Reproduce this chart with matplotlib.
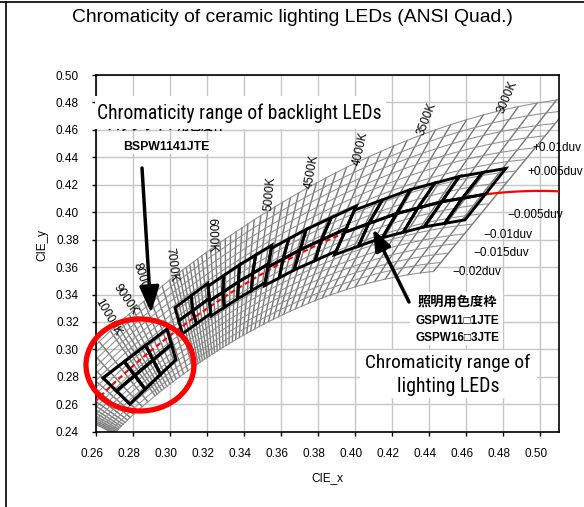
import matplotlib
matplotlib.use("Agg")
import matplotlib.pyplot as plt
import numpy as np
from matplotlib import font_manager
from matplotlib.font_manager import FontProperties
from matplotlib.lines import Line2D
from matplotlib.patches import Ellipse, Polygon, Rectangle, FancyArrowPatch
from matplotlib.transforms import ScaledTranslation

# figure size in pixels (dpi 100)
W, H = 584, 507

# axis ticks
X_TICKS = [0.26, 0.28, 0.30, 0.32, 0.34, 0.36, 0.38, 0.40, 0.42, 0.44, 0.46, 0.48, 0.50]
Y_TICKS = [0.24, 0.26, 0.28, 0.30, 0.32, 0.34, 0.36, 0.38, 0.40, 0.42, 0.44, 0.46, 0.48, 0.50]

# gray reference mesh: isotherms (K) and Duv steps
MESH_CCT = list(range(2500, 7000, 100)) + list(range(7000, 10000, 250)) + list(range(10000, 25001, 1000))
MESH_DUV = [-0.02, -0.0175, -0.015, -0.0125, -0.01, -0.0075, -0.005, -0.0025,
            0.0025, 0.005, 0.0075, 0.01, 0.0125, 0.015, 0.0175, 0.02]

# ANSI C78.377 quadrangles: centre and corners
# corner order: warm/+duv, cool/+duv, cool/-duv, warm/-duv
ANSI_CCT = [2700, 3000, 3500, 4000, 4500, 5000, 5700, 6500]
ANSI_CX = [0.4578, 0.4338, 0.4073, 0.3818, 0.3611, 0.3447, 0.3287, 0.3123]
ANSI_CY = [0.4101, 0.4030, 0.3917, 0.3797, 0.3658, 0.3553, 0.3417, 0.3282]
ANSI_X = [[0.4813, 0.4562, 0.4373, 0.4593],
          [0.4562, 0.4299, 0.4147, 0.4373],
          [0.4299, 0.3996, 0.3889, 0.4147],
          [0.4006, 0.3736, 0.3670, 0.3898],
          [0.3736, 0.3548, 0.3512, 0.3670],
          [0.3551, 0.3376, 0.3366, 0.3515],
          [0.3376, 0.3207, 0.3222, 0.3366],
          [0.3205, 0.3028, 0.3068, 0.3221]]
ANSI_Y = [[0.4319, 0.4260, 0.3893, 0.3944],
          [0.4260, 0.4165, 0.3814, 0.3893],
          [0.4165, 0.4015, 0.3690, 0.3814],
          [0.4044, 0.3874, 0.3578, 0.3716],
          [0.3874, 0.3736, 0.3465, 0.3578],
          [0.3760, 0.3616, 0.3369, 0.3487],
          [0.3616, 0.3462, 0.3243, 0.3369],
          [0.3481, 0.3304, 0.3113, 0.3261]]

# backlight range (cool/+duv, warm/+duv, warm/-duv, cool/-duv), 3 x 2 cells
BL_X = [0.2640, 0.2985, 0.3033, 0.2785]
BL_Y = [0.2792, 0.3148, 0.2925, 0.2602]
BL_COLS, BL_ROWS = 3, 2

# labels
K_LABELS = ["3000K", "3500K", "4000K", "4500K", "5000K", "6000K", "7000K", "8000K", "9000K", "10000K"]
K_POS = [(507, 97, 67), (427, 119, 69), (361, 149, 77), (312, 172, 80), (270, 194, 85),
         (212, 235, -89), (171, 265, -83), (142, 279, -72), (126, 300, -56), (108, 317, -60)]
DUV_LABELS = ["+0.01duv", "+0.005duv", "\u22120.005duv", "\u22120.01duv", "\u22120.015duv", "\u22120.02duv"]
DUV_POS = [(532, 148), (527, 172), (507, 215), (483, 235), (473, 253), (452, 272)]

SANS = "Liberation Sans"
JP = [SANS, "Noto Sans CJK JP"]


def narrow_font():
    wanted = ["Liberation Sans Narrow", "Arial Narrow", "Roboto Condensed", "Open Sans Condensed",
              "Noto Sans Condensed", "DejaVu Sans Condensed"]
    fonts = font_manager.fontManager.ttflist
    for name in wanted:
        for f in fonts:
            if f.name == name and f.style == "normal" and f.weight in (400, "normal", "regular"):
                return FontProperties(fname=f.fname)
    for f in fonts:
        if f.stretch in ("condensed", "semi-condensed") and f.style == "normal" \
                and f.weight in (400, "normal", "regular"):
            return FontProperties(fname=f.fname)
    return FontProperties(family=SANS)


NARROW = narrow_font()


def planck_uv(T):
    T = np.asarray(T, dtype=float)
    u = (0.860117757 + 1.54118254e-4 * T + 1.28641212e-7 * T ** 2) / (1 + 8.42420235e-4 * T + 7.08145163e-7 * T ** 2)
    v = (0.317398726 + 4.22806245e-5 * T + 4.20481691e-8 * T ** 2) / (1 - 2.89741816e-5 * T + 1.61456053e-7 * T ** 2)
    return u, v


def cct_duv_xy(T, duv):
    T = np.asarray(T, dtype=float)
    u, v = planck_uv(T)
    u2, v2 = planck_uv(T * 1.001)
    du, dv = u2 - u, v2 - v
    n = np.hypot(du, dv)
    uu = u + duv * dv / n
    vv = v - duv * du / n
    d = 2 * uu - 8 * vv + 4
    return 3 * uu / d, 2 * vv / d


def split_quad(px, py, cx, cy):
    p = np.column_stack([px, py])
    c = np.array([cx, cy])
    m = [(p[i] + p[(i + 1) % 4]) / 2 for i in range(4)]
    return [[p[0], m[0], c, m[3]], [m[0], p[1], m[1], c],
            [c, m[1], p[2], m[2]], [m[3], c, m[2], p[3]]]


def grid_cells(px, py, ncol, nrow):
    a, b, c, d = [np.array([px[i], py[i]]) for i in range(4)]
    node = {}
    for i in range(ncol + 1):
        s = i / ncol
        top = a + s * (b - a)
        bot = d + s * (c - d)
        for j in range(nrow + 1):
            node[i, j] = top + j / nrow * (bot - top)
    return [[node[i, j], node[i + 1, j], node[i + 1, j + 1], node[i, j + 1]]
            for i in range(ncol) for j in range(nrow)]


def fx(px):
    return px / W


def fy(py):
    return 1 - py / H


fig = plt.figure(figsize=(W / 100, H / 100), dpi=100)
renderer = fig.canvas.get_renderer()


def fit_text(px, py, s, width, ha="center", **kw):
    # scale the font so the text is as wide as in the reference
    t = fig.text(fx(px), fy(py), s, ha=ha, va="center", **kw)
    w = t.get_window_extent(renderer).width
    t.set_fontsize(t.get_fontsize() * width / w)
    return t


ax = fig.add_axes([fx(95.6), fy(431.7), (559 - 95.6) / W, (431.7 - 75) / H])
ax.set_xlim(0.26, 0.51)
ax.set_ylim(0.24, 0.50)
ax.set_xticks(X_TICKS)
ax.set_yticks(Y_TICKS)
ax.set_xticklabels([f"{t:.2f}" for t in X_TICKS], fontsize=8.5, family=SANS)
ax.set_yticklabels([f"{t:.2f}" for t in Y_TICKS], fontsize=8.5, family=SANS)
ax.tick_params(direction="out", length=3, width=1, pad=9)
shift = ScaledTranslation(-4 / 100, 0, fig.dpi_scale_trans)
for lab in ax.get_xticklabels():
    lab.set_transform(lab.get_transform() + shift)
ax.grid(True, color="#c6c6c6", lw=1.0, zorder=0)
ax.set_axisbelow(True)
for s in ax.spines.values():
    s.set_linewidth(1.2)

# gray mesh
for T in MESH_CCT:
    x0, y0 = cct_duv_xy(T, MESH_DUV[0])
    x1, y1 = cct_duv_xy(T, MESH_DUV[-1])
    ax.plot([x0, x1], [y0, y1], color="#777777", lw=1.0, zorder=2)
for d in MESH_DUV:
    xs, ys = cct_duv_xy(MESH_CCT, d)
    ax.plot(xs, ys, color="#8f8f8f", lw=0.75, zorder=2)

# planckian locus
t_dash = np.geomspace(2600, 30000, 400)
t_solid = np.geomspace(1900, 2600, 60)
lx, ly = cct_duv_xy(t_dash, 0.0)
ax.plot(lx, ly, color="red", lw=1.5, dashes=(2.5, 1.5), zorder=3)
lx, ly = cct_duv_xy(t_solid, 0.0)
ax.plot(lx, ly, color="red", lw=1.6, zorder=3)

# black quadrangles
for k in range(len(ANSI_CCT)):
    for q in split_quad(ANSI_X[k], ANSI_Y[k], ANSI_CX[k], ANSI_CY[k]):
        ax.add_patch(Polygon(q, closed=True, fill=False, ec="black", lw=2.1, zorder=4))
for q in grid_cells(BL_X, BL_Y, BL_COLS, BL_ROWS):
    ax.add_patch(Polygon(q, closed=True, fill=False, ec="black", lw=2.3, zorder=4))

# isotherm / duv labels
for lab, (px, py, rot) in zip(K_LABELS, K_POS):
    fig.text(fx(px), fy(py), lab, fontsize=8.5, family=SANS, rotation=rot,
             rotation_mode="anchor", ha="center", va="center", zorder=3)
for lab, (px, py) in zip(DUV_LABELS, DUV_POS):
    fig.text(fx(px), fy(py), lab, fontsize=8.5, family=SANS, ha="left", va="center", zorder=3)

# backlight caption
fig.text(fx(166), fy(127), "バックライト用色度枠", fontsize=8.5, family=JP, weight="bold",
         ha="center", va="center", zorder=3)
fig.add_artist(Rectangle((fx(95), fy(129)), (386 - 95) / W, (129 - 96) / H,
                         transform=fig.transFigure, fc="white", ec="none", zorder=4))
fit_text(97, 113, "Chromaticity range of backlight LEDs", 286, ha="left",
         fontproperties=NARROW, fontsize=15, zorder=5)
fig.text(fx(166), fy(147), "BSPW1141JTE", fontsize=8.8, family=SANS, weight="bold",
         ha="center", va="center", zorder=4,
         bbox=dict(fc="white", ec="none", pad=1))

# lighting caption
fig.add_artist(Rectangle((fx(410), fy(345)), (503 - 410) / W, (345 - 292) / H,
                         transform=fig.transFigure, fc="white", ec="none", zorder=4))
fig.text(fx(457), fy(302), "照明用色度枠", fontsize=9.5, family=JP, weight="bold",
         ha="center", va="center", zorder=5)
fig.text(fx(457), fy(321), "GSPW11□1JTE", fontsize=8.5, family=JP, weight="bold",
         ha="center", va="center", zorder=5)
fig.text(fx(457), fy(338), "GSPW16□3JTE", fontsize=8.5, family=JP, weight="bold",
         ha="center", va="center", zorder=5)
fig.add_artist(Rectangle((fx(360), fy(398)), (537 - 360) / W, (398 - 350) / H,
                         transform=fig.transFigure, fc="white", ec="none", zorder=4))
fit_text(448, 363, "Chromaticity range of", 165, fontproperties=NARROW, fontsize=15, zorder=5)
fit_text(448, 386, "lighting LEDs", 103, fontproperties=NARROW, fontsize=15, zorder=5)

# red ellipse
fig.add_artist(Ellipse((fx(140), fy(365)), 108 / W, 92 / H, transform=fig.transFigure,
                       fill=False, ec="#ff0000", lw=3.8, zorder=6))

# arrows
fig.add_artist(FancyArrowPatch((fx(142), fy(168)), (fx(151), fy(313)), transform=fig.transFigure,
                               arrowstyle="-|>,head_length=0.8,head_width=0.3", mutation_scale=20,
                               color="black", lw=2.5, shrinkA=0, shrinkB=0, zorder=7))
fig.add_artist(FancyArrowPatch((fx(409), fy(302)), (fx(373), fy(229)), transform=fig.transFigure,
                               arrowstyle="-|>,head_length=0.65,head_width=0.25", mutation_scale=20,
                               color="black", lw=2.5, shrinkA=0, shrinkB=0, zorder=7))

# titles and axis labels
fit_text(292, 18, "Chromaticity of ceramic lighting LEDs (ANSI Quad.)", 440, family=SANS, fontsize=13)
fig.text(fx(327), fy(478), "CIE_x", fontsize=8.5, family=SANS, ha="center", va="center")
fig.text(fx(42), fy(245), "CIE_y", fontsize=8.5, family=SANS, rotation=90, ha="center", va="center")

# frame of the picture
fig.add_artist(Line2D([fx(0), fx(W)], [fy(1.5), fy(1.5)], transform=fig.transFigure, color="black", lw=1.2))
fig.add_artist(Line2D([fx(6), fx(6)], [fy(1.5), fy(H)], transform=fig.transFigure, color="black", lw=1.2))

fig.savefig("out.png", dpi=100)
